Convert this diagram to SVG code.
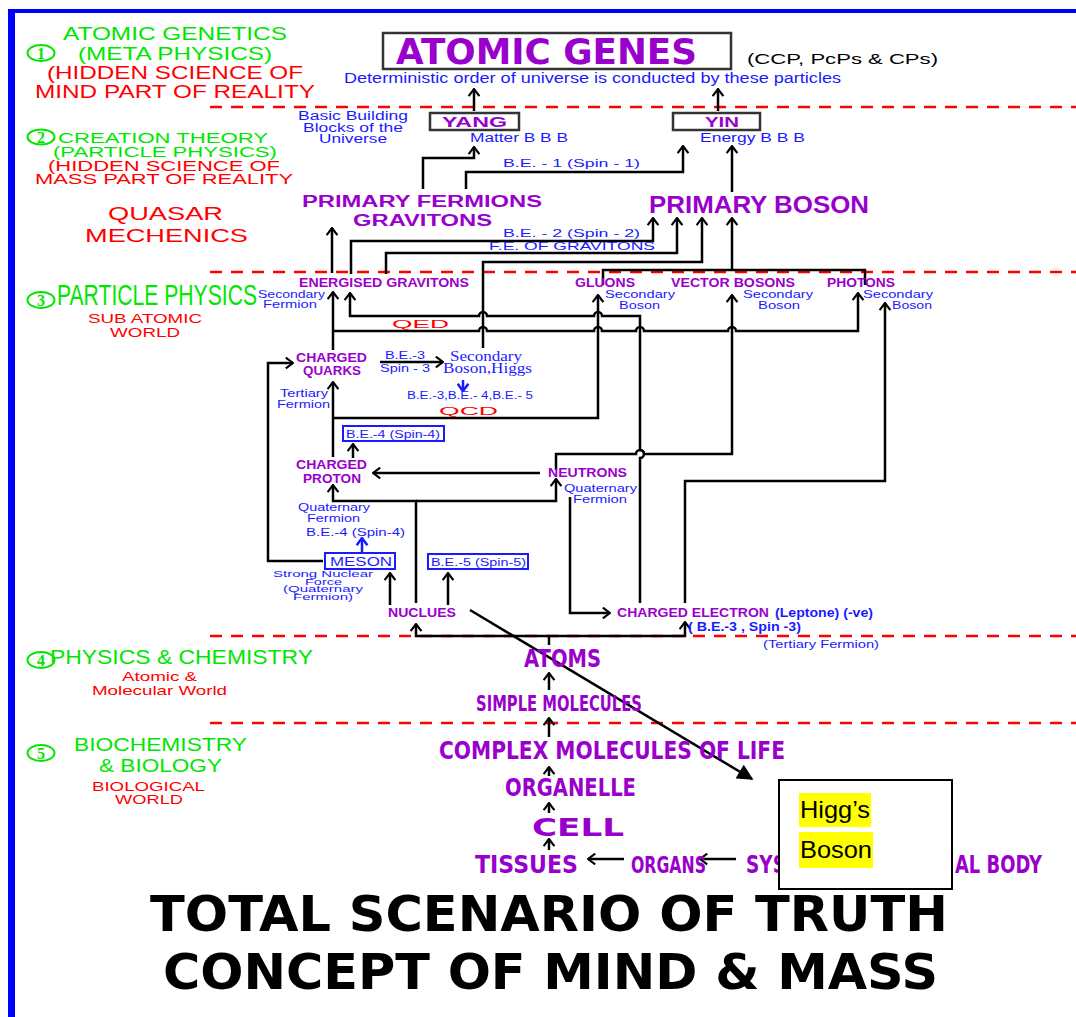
<svg xmlns="http://www.w3.org/2000/svg" width="1076" height="1017" viewBox="0 0 1076 1017">
<style>
text{font-family:"Liberation Sans",Arial,sans-serif}
.g{fill:#00E600}
.r{fill:#FF0000}
.b{fill:#1a1aff}
.p{fill:#9900CC;font-weight:bold}
.pc{fill:#9900CC;font-weight:bold;font-family:"DejaVu Sans",sans-serif}
.k{fill:#000}
.ser{font-family:"Liberation Serif","Times New Roman",serif}
.ln{fill:none;stroke:#000;stroke-width:2.5}
.lb{fill:none;stroke:#1a1aff;stroke-width:2.5}
.dash{stroke:#FF0000;stroke-width:2.5;stroke-dasharray:12 9}
.box{fill:#fff;stroke:#333;stroke-width:2.5}
.bbox{fill:#fff;stroke:#1a1aff;stroke-width:2}
.circ{fill:none;stroke:#00E600;stroke-width:2}
.cd{fill:#00E600;font-family:"Liberation Serif",serif;font-weight:bold;font-size:16px}
</style>
<defs>
<marker id="a" viewBox="0 0 10 14" refX="9" refY="7" markerWidth="9" markerHeight="13" markerUnits="userSpaceOnUse" orient="auto-start-reverse"><path d="M1,1 L9,7 L1,13" fill="none" stroke="#000" stroke-width="2.4"/></marker>
<marker id="ab" viewBox="0 0 10 14" refX="9" refY="7" markerWidth="9" markerHeight="13" markerUnits="userSpaceOnUse" orient="auto"><path d="M1,1 L9,7 L1,13" fill="none" stroke="#1a1aff" stroke-width="2.8"/></marker>
<marker id="t" viewBox="0 0 10 10" refX="9" refY="5" markerWidth="20" markerHeight="16" markerUnits="userSpaceOnUse" orient="auto"><path d="M0,0 L10,5 L0,10 Z" fill="#000"/></marker>
</defs>
<rect width="1076" height="1017" fill="#fff"/>
<!-- border -->
<rect x="8" y="9" width="7" height="1008" fill="#0000FF"/>
<rect x="8" y="9" width="1068" height="4" fill="#0000FF"/>
<!-- dashed separators -->
<g id="separators">
<line class="dash" x1="210" y1="107" x2="1076" y2="107"/>
<line class="dash" x1="210" y1="272" x2="1076" y2="272"/>
<line class="dash" x1="210" y1="636" x2="1076" y2="636"/>
<line class="dash" x1="210" y1="723" x2="1076" y2="723"/>
</g>
<!-- left side labels -->
<g id="sec1">
<ellipse class="circ" cx="41" cy="53" rx="13.5" ry="8"/><text class="cd" x="41" y="59" text-anchor="middle">1</text>
<text class="g" x="63" y="40" font-size="19" textLength="224" lengthAdjust="spacingAndGlyphs">ATOMIC GENETICS</text>
<text class="g" x="78" y="60" font-size="19" textLength="194" lengthAdjust="spacingAndGlyphs">(META PHYSICS)</text>
<text class="r" x="47" y="79" font-size="19" textLength="256" lengthAdjust="spacingAndGlyphs">(HIDDEN SCIENCE OF</text>
<text class="r" x="35" y="98" font-size="19" textLength="280" lengthAdjust="spacingAndGlyphs">MIND PART OF REALITY</text>
</g>
<g id="sec2">
<ellipse class="circ" cx="41" cy="137" rx="13.5" ry="7.5"/><text class="cd" x="41" y="143" text-anchor="middle">2</text>
<text class="g" x="58" y="143" font-size="14" textLength="210" lengthAdjust="spacingAndGlyphs">CREATION THEORY</text>
<text class="g" x="53" y="157" font-size="14" textLength="224" lengthAdjust="spacingAndGlyphs">(PARTICLE PHYSICS)</text>
<text class="r" x="48" y="171" font-size="14" textLength="232" lengthAdjust="spacingAndGlyphs">(HIDDEN SCIENCE OF</text>
<text class="r" x="35" y="184" font-size="14" textLength="258" lengthAdjust="spacingAndGlyphs">MASS PART OF REALITY</text>
<text class="r" x="108" y="220" font-size="19" textLength="115" lengthAdjust="spacingAndGlyphs">QUASAR</text>
<text class="r" x="85" y="242" font-size="19" textLength="163" lengthAdjust="spacingAndGlyphs">MECHENICS</text>
</g>
<g id="sec3">
<ellipse class="circ" cx="41" cy="300" rx="13.5" ry="8"/><text class="cd" x="41" y="306" text-anchor="middle">3</text>
<text class="g" x="57" y="305" font-size="30" textLength="200" lengthAdjust="spacingAndGlyphs">PARTICLE PHYSICS</text>
<text class="r" x="88" y="323" font-size="13" textLength="114" lengthAdjust="spacingAndGlyphs">SUB ATOMIC</text>
<text class="r" x="110" y="337" font-size="13" textLength="70" lengthAdjust="spacingAndGlyphs">WORLD</text>
</g>
<g id="sec4">
<ellipse class="circ" cx="41" cy="660" rx="13.5" ry="8"/><text class="cd" x="41" y="666" text-anchor="middle">4</text>
<text class="g" x="50" y="664" font-size="21" textLength="263" lengthAdjust="spacingAndGlyphs">PHYSICS &amp; CHEMISTRY</text>
<text class="r" x="122" y="681" font-size="13" textLength="75" lengthAdjust="spacingAndGlyphs">Atomic &amp;</text>
<text class="r" x="92" y="695" font-size="13" textLength="135" lengthAdjust="spacingAndGlyphs">Molecular World</text>
</g>
<g id="sec5">
<ellipse class="circ" cx="41" cy="753" rx="13.5" ry="8"/><text class="cd" x="41" y="759" text-anchor="middle">5</text>
<text class="g" x="74" y="751" font-size="19" textLength="173" lengthAdjust="spacingAndGlyphs">BIOCHEMISTRY</text>
<text class="g" x="99" y="772" font-size="19" textLength="123" lengthAdjust="spacingAndGlyphs">&amp; BIOLOGY</text>
<text class="r" x="92" y="791" font-size="13" textLength="113" lengthAdjust="spacingAndGlyphs">BIOLOGICAL</text>
<text class="r" x="115" y="804" font-size="13" textLength="68" lengthAdjust="spacingAndGlyphs">WORLD</text>
</g>
<!-- connectors -->
<g id="connectors">
<path class="ln" d="M474 111 V89" marker-end="url(#a)"/>
<path class="ln" d="M718 111 V89" marker-end="url(#a)"/>
<path class="ln" d="M423 189 V158 H474 V147" marker-end="url(#a)"/>
<path class="ln" d="M466 189 V172 H683 V146" marker-end="url(#a)"/>
<path class="ln" d="M732 192 V146" marker-end="url(#a)"/>
<path class="ln" d="M332 273 V228" marker-end="url(#a)"/>
<path class="ln" d="M351 274 V241 H653 V218" marker-end="url(#a)"/>
<path class="ln" d="M386 274 V253 H677 V218" marker-end="url(#a)"/>
<path class="ln" d="M483 348 V262 H702 V218" marker-end="url(#a)"/>
<path class="ln" d="M603 285 V270 H865 V285"/>
<path class="ln" d="M732 270 V218" marker-end="url(#a)"/>
<path class="ln" d="M333 350 V292" marker-end="url(#a)"/>
<path class="ln" d="M350 293 V316 H479 a4 4 0 0 1 8 0 H594 a4 4 0 0 1 8 0 H640 V450 a4 4 0 0 1 0 8 V603" marker-start="url(#a)"/>
<path class="ln" d="M333 331 H479 a4 4 0 0 1 8 0 H594 a4 4 0 0 1 8 0 H636 a4 4 0 0 1 8 0 H728 a4 4 0 0 1 8 0 H858 V293" marker-end="url(#a)"/>
<path class="ln" d="M333 418 H598 V295" marker-end="url(#a)"/>
<path class="ln" d="M556 470 V454 H636 a4 4 0 0 1 8 0 H732 V295" marker-end="url(#a)"/>
<path class="ln" d="M685 603 V481 H885 V303" marker-end="url(#a)"/>
<path class="ln" d="M570 497 V613 H610" marker-end="url(#a)"/>
<path class="ln" d="M323 561 H268 V363 H293" marker-end="url(#a)"/>
<path class="ln" d="M380 362 H443" marker-end="url(#a)"/>
<path class="lb" d="M463 380 V391" marker-end="url(#ab)"/>
<path class="ln" d="M333 457 V382" marker-end="url(#a)"/>
<path class="ln" d="M353 458 V444" marker-end="url(#a)"/>
<path class="ln" d="M540 473 H373" marker-end="url(#a)"/>
<path class="ln" d="M416 603 V501 H333 V485" marker-end="url(#a)"/>
<path class="ln" d="M416 501 H556 V479" marker-end="url(#a)"/>
<path class="lb" d="M362 553 V538" marker-end="url(#ab)"/>
<path class="ln" d="M390 605 V573" marker-end="url(#a)"/>
<path class="ln" d="M448 605 V573" marker-end="url(#a)"/>
<path class="ln" d="M416 624 V636 H685 V622" marker-start="url(#a)" marker-end="url(#a)"/>
<path class="ln" d="M549 636 V645"/>
<path class="ln" d="M549 690 V673" marker-end="url(#a)"/>
<path class="ln" d="M549 737 V718" marker-end="url(#a)"/>
<path class="ln" d="M549 776 V767" marker-end="url(#a)"/>
<path class="ln" d="M549 813 V803" marker-end="url(#a)"/>
<path class="ln" d="M549 850 V839" marker-end="url(#a)"/>
<path class="ln" d="M624 859 H588" marker-end="url(#a)"/>
<path class="ln" d="M736 859 H700" marker-end="url(#a)"/>
<path class="ln" d="M470 610 L752 779" marker-end="url(#t)"/>
</g>
<!-- top nodes -->
<g id="atomic-genes">
<rect class="box" x="383" y="33" width="348" height="36"/>
<text class="pc" x="396" y="64" font-size="36" textLength="301" lengthAdjust="spacingAndGlyphs">ATOMIC GENES</text>
<text class="k" x="747" y="64" font-size="14" textLength="191" lengthAdjust="spacingAndGlyphs">(CCP, PcPs &amp; CPs)</text>
<text class="b" x="344" y="83" font-size="14" textLength="497" lengthAdjust="spacingAndGlyphs">Deterministic order of universe is conducted by these particles</text>
</g>
<g id="yang">
<rect class="box" x="430" y="113" width="89" height="17"/>
<text class="p" x="442" y="127" font-size="14" textLength="65" lengthAdjust="spacingAndGlyphs">YANG</text>
<text class="b" x="470" y="142" font-size="12" textLength="98" lengthAdjust="spacingAndGlyphs">Matter B B B</text>
</g>
<g id="yin">
<rect class="box" x="673" y="113" width="87" height="17"/>
<text class="p" x="705" y="127" font-size="14" textLength="34" lengthAdjust="spacingAndGlyphs">YIN</text>
<text class="b" x="700" y="142" font-size="12" textLength="105" lengthAdjust="spacingAndGlyphs">Energy B B B</text>
</g>
<g id="basic-building">
<text class="b" x="298" y="120" font-size="12" textLength="110" lengthAdjust="spacingAndGlyphs">Basic Building</text>
<text class="b" x="303" y="132" font-size="12" textLength="100" lengthAdjust="spacingAndGlyphs">Blocks of the</text>
<text class="b" x="319" y="143" font-size="12" textLength="68" lengthAdjust="spacingAndGlyphs">Universe</text>
</g>
<g id="edge-labels">
<text class="b" x="503" y="167" font-size="11" textLength="137" lengthAdjust="spacingAndGlyphs">B.E. - 1 (Spin - 1)</text>
<text class="b" x="503" y="237" font-size="11" textLength="137" lengthAdjust="spacingAndGlyphs">B.E. - 2 (Spin - 2)</text>
<text class="b" x="489" y="250" font-size="11" textLength="166" lengthAdjust="spacingAndGlyphs">F.E. OF GRAVITONS</text>
<text class="r" x="392" y="328" font-size="11.5" textLength="57" lengthAdjust="spacingAndGlyphs">QED</text>
<text class="r" x="439" y="415" font-size="11.5" textLength="59" lengthAdjust="spacingAndGlyphs">QCD</text>
<text class="b" x="385" y="359" font-size="10" textLength="40" lengthAdjust="spacingAndGlyphs">B.E.-3</text>
<text class="b" x="380" y="372" font-size="10" textLength="50" lengthAdjust="spacingAndGlyphs">Spin - 3</text>
</g>
<g id="primary-fermions">
<text class="p" x="302" y="207" font-size="16" textLength="240" lengthAdjust="spacingAndGlyphs">PRIMARY FERMIONS</text>
<text class="p" x="353" y="226" font-size="16" textLength="139" lengthAdjust="spacingAndGlyphs">GRAVITONS</text>
</g>
<g id="primary-boson">
<text class="p" x="649" y="213" font-size="23" textLength="220" lengthAdjust="spacingAndGlyphs">PRIMARY BOSON</text>
</g>
<g id="energised-gravitons">
<text class="p" x="299" y="287" font-size="12" textLength="170" lengthAdjust="spacingAndGlyphs">ENERGISED GRAVITONS</text>
<text class="b" x="258" y="298" font-size="11" textLength="67" lengthAdjust="spacingAndGlyphs">Secondary</text>
<text class="b" x="263" y="308" font-size="11" textLength="54" lengthAdjust="spacingAndGlyphs">Fermion</text>
</g>
<g id="gluons">
<text class="p" x="575" y="287" font-size="12" textLength="60" lengthAdjust="spacingAndGlyphs">GLUONS</text>
<text class="b" x="605" y="298" font-size="11" textLength="70" lengthAdjust="spacingAndGlyphs">Secondary</text>
<text class="b" x="619" y="309" font-size="11" textLength="41" lengthAdjust="spacingAndGlyphs">Boson</text>
</g>
<g id="vector-bosons">
<text class="p" x="671" y="287" font-size="12" textLength="124" lengthAdjust="spacingAndGlyphs">VECTOR BOSONS</text>
<text class="b" x="743" y="298" font-size="11" textLength="70" lengthAdjust="spacingAndGlyphs">Secondary</text>
<text class="b" x="758" y="309" font-size="11" textLength="42" lengthAdjust="spacingAndGlyphs">Boson</text>
</g>
<g id="photons">
<text class="p" x="827" y="287" font-size="12" textLength="68" lengthAdjust="spacingAndGlyphs">PHOTONS</text>
<text class="b" x="863" y="298" font-size="11" textLength="70" lengthAdjust="spacingAndGlyphs">Secondary</text>
<text class="b" x="892" y="309" font-size="11" textLength="40" lengthAdjust="spacingAndGlyphs">Boson</text>
</g>
<g id="charged-quarks">
<text class="p" x="296" y="362" font-size="12" textLength="71" lengthAdjust="spacingAndGlyphs">CHARGED</text>
<text class="p" x="303" y="375" font-size="12" textLength="58" lengthAdjust="spacingAndGlyphs">QUARKS</text>
<text class="b" x="280" y="397" font-size="11" textLength="48" lengthAdjust="spacingAndGlyphs">Tertiary</text>
<text class="b" x="277" y="408" font-size="11" textLength="53" lengthAdjust="spacingAndGlyphs">Fermion</text>
</g>
<g id="secondary-boson-higgs">
<text class="b ser" x="450" y="361" font-size="15" textLength="72" lengthAdjust="spacingAndGlyphs">Secondary</text>
<text class="b ser" x="443" y="373" font-size="15" textLength="89" lengthAdjust="spacingAndGlyphs">Boson,Higgs</text>
<text class="b" x="407" y="399" font-size="10" textLength="126" lengthAdjust="spacingAndGlyphs">B.E.-3,B.E.- 4,B.E.- 5</text>
</g>
<g id="be4-box">
<rect class="bbox" x="343" y="426" width="101" height="15"/>
<text class="b" x="346" y="437.5" font-size="10.5" textLength="94" lengthAdjust="spacingAndGlyphs">B.E.-4 (Spin-4)</text>
</g>
<g id="charged-proton">
<text class="p" x="296" y="469" font-size="12" textLength="71" lengthAdjust="spacingAndGlyphs">CHARGED</text>
<text class="p" x="303" y="483" font-size="12" textLength="58" lengthAdjust="spacingAndGlyphs">PROTON</text>
<text class="b" x="298" y="511" font-size="11" textLength="72" lengthAdjust="spacingAndGlyphs">Quaternary</text>
<text class="b" x="307" y="522" font-size="11" textLength="53" lengthAdjust="spacingAndGlyphs">Fermion</text>
<text class="b" x="306" y="536" font-size="10" textLength="99" lengthAdjust="spacingAndGlyphs">B.E.-4 (Spin-4)</text>
</g>
<g id="neutrons">
<text class="p" x="548" y="477" font-size="12" textLength="79" lengthAdjust="spacingAndGlyphs">NEUTRONS</text>
<text class="b" x="564" y="492" font-size="11" textLength="73" lengthAdjust="spacingAndGlyphs">Quaternary</text>
<text class="b" x="573" y="503" font-size="11" textLength="54" lengthAdjust="spacingAndGlyphs">Fermion</text>
</g>
<g id="meson">
<rect class="bbox" x="325" y="553" width="70" height="16"/>
<text class="b" x="330" y="566" font-size="12.5" textLength="62" lengthAdjust="spacingAndGlyphs">MESON</text>
<text class="b" x="273" y="577" font-size="9" textLength="100" lengthAdjust="spacingAndGlyphs">Strong Nuclear</text>
<text class="b" x="305" y="584.5" font-size="9" textLength="37" lengthAdjust="spacingAndGlyphs">Force</text>
<text class="b" x="283" y="592" font-size="9" textLength="80" lengthAdjust="spacingAndGlyphs">(Quaternary</text>
<text class="b" x="293" y="599.5" font-size="9" textLength="60" lengthAdjust="spacingAndGlyphs">Fermion)</text>
</g>
<g id="be5-box">
<rect class="bbox" x="428" y="554" width="100" height="15"/>
<text class="b" x="431" y="566" font-size="10.5" textLength="95" lengthAdjust="spacingAndGlyphs">B.E.-5 (Spin-5)</text>
</g>
<g id="nuclues">
<text class="p" x="388" y="617" font-size="12" textLength="68" lengthAdjust="spacingAndGlyphs">NUCLUES</text>
</g>
<g id="charged-electron">
<text class="p" x="617" y="617" font-size="12" textLength="152" lengthAdjust="spacingAndGlyphs">CHARGED ELECTRON</text>
<text class="b" x="775" y="617" font-size="12" font-weight="bold" textLength="98" lengthAdjust="spacingAndGlyphs">(Leptone) (-ve)</text>
<text class="b" x="688" y="631" font-size="12" font-weight="bold" textLength="113" lengthAdjust="spacingAndGlyphs">( B.E.-3 , Spin -3)</text>
<text class="b" x="763" y="648" font-size="11" textLength="116" lengthAdjust="spacingAndGlyphs">(Tertiary Fermion)</text>
</g>
<!-- bottom chain -->
<g id="atoms"><text class="pc" x="524" y="667" font-size="24" textLength="77" lengthAdjust="spacingAndGlyphs">ATOMS</text></g>
<g id="simple-molecules"><text class="pc" x="476" y="711" font-size="22" textLength="166" lengthAdjust="spacingAndGlyphs">SIMPLE MOLECULES</text></g>
<g id="complex-molecules"><text class="pc" x="439" y="759" font-size="24" textLength="346" lengthAdjust="spacingAndGlyphs">COMPLEX MOLECULES OF LIFE</text></g>
<g id="organelle"><text class="pc" x="505" y="796" font-size="24" textLength="131" lengthAdjust="spacingAndGlyphs">ORGANELLE</text></g>
<g id="cell"><text class="pc" x="532" y="836" font-size="25" textLength="92" lengthAdjust="spacingAndGlyphs">CELL</text></g>
<g id="tissues"><text class="pc" x="475" y="873" font-size="25" textLength="103" lengthAdjust="spacingAndGlyphs">TISSUES</text></g>
<g id="organs"><text class="pc" x="631" y="873" font-size="23" textLength="75" lengthAdjust="spacingAndGlyphs">ORGANS</text></g>
<g id="systems"><text class="pc" x="746" y="873" font-size="25" textLength="40" lengthAdjust="spacingAndGlyphs">SYS</text></g>
<g id="body"><text class="pc" x="955" y="873" font-size="25" textLength="87" lengthAdjust="spacingAndGlyphs">AL BODY</text></g>
<g id="higgs-box">
<rect x="779" y="780" width="173" height="109" fill="#fff" stroke="#000" stroke-width="2"/>
<rect x="799" y="793" width="72" height="34" fill="#FFFF00"/>
<rect x="799" y="832" width="74" height="36" fill="#FFFF00"/>
<text class="k" x="800" y="818" font-size="24" textLength="70" lengthAdjust="spacingAndGlyphs">Higg’s</text>
<text class="k" x="800" y="858" font-size="24" textLength="72" lengthAdjust="spacingAndGlyphs">Boson</text>
</g>
<g id="title">
<text class="k" x="150" y="931" font-size="50" font-weight="bold" textLength="798" lengthAdjust="spacingAndGlyphs" style="font-family:'DejaVu Sans',sans-serif">TOTAL SCENARIO OF TRUTH</text>
<text class="k" x="163" y="989" font-size="50" font-weight="bold" textLength="775" lengthAdjust="spacingAndGlyphs" style="font-family:'DejaVu Sans',sans-serif">CONCEPT OF MIND &amp; MASS</text>
</g>
</svg>
